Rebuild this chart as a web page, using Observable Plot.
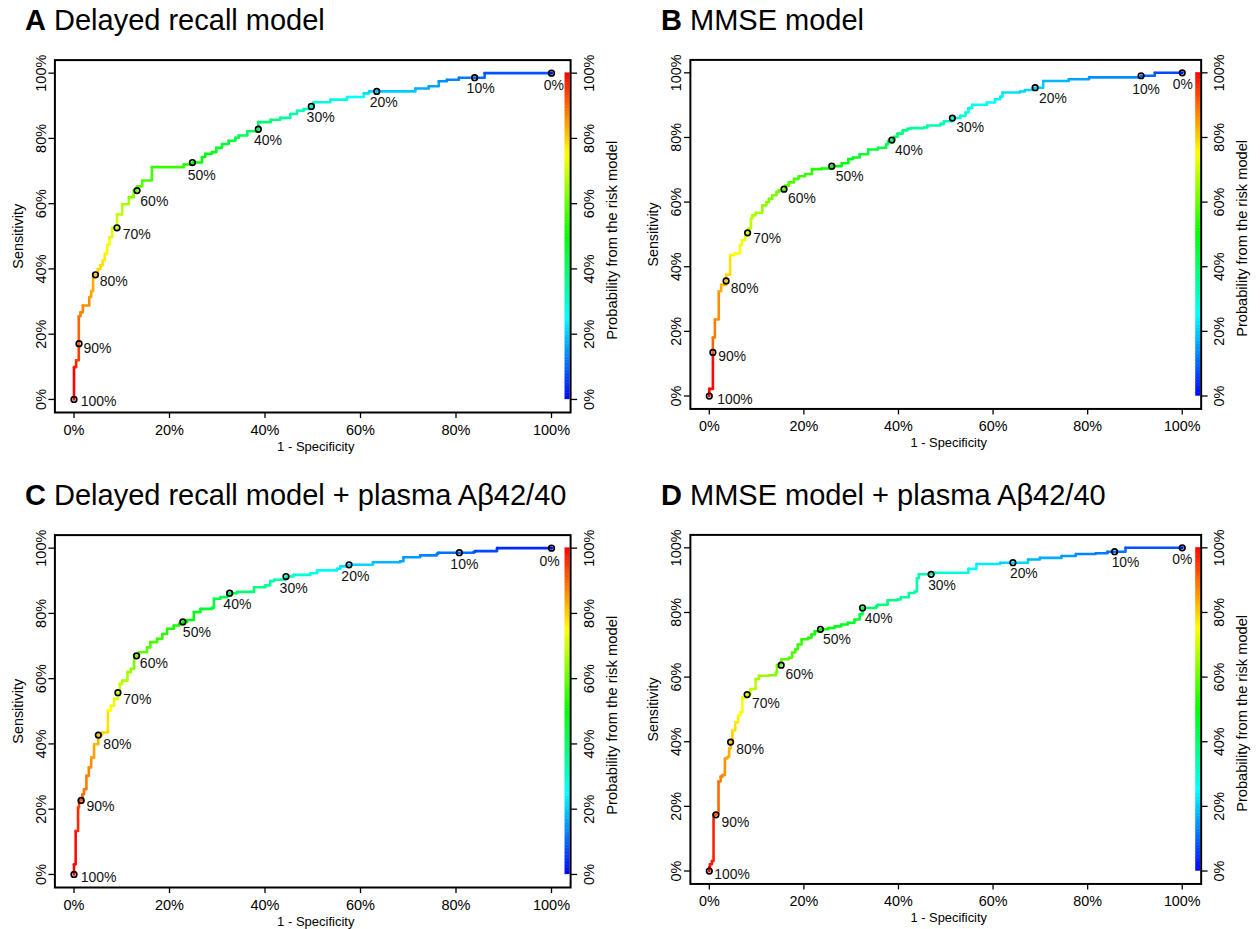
<!DOCTYPE html>
<html><head><meta charset="utf-8">
<script src="https://cdn.jsdelivr.net/npm/d3@7"></script>
<script src="https://cdn.jsdelivr.net/npm/@observablehq/plot@0.6"></script>
<style>
body{margin:0;background:#fff;}
#root{position:relative;width:1260px;height:929px;background:#fff;font-family:"Liberation Sans",Arial,Helvetica,sans-serif;color:#000;}
.title{position:absolute;font-size:29px;line-height:29px;white-space:nowrap;}
.panel{position:absolute;}
</style></head><body><div id="root"></div>
<script>
// ---------- data ----------
const tickVals = [0, 0.2, 0.4, 0.6, 0.8, 1];
const tickLabels = ["0%", "20%", "40%", "60%", "80%", "100%"];
const cutLabels = ["100%", "90%", "80%", "70%", "60%", "50%", "40%", "30%", "20%", "10%", "0%"];

// ROC vertices: [1-specificity %, sensitivity %, cutoff probability %]
const rocA = [[0,0,100],[0,9.9,97],[0.45,12.0,94],[1.0,17.1,90],[1.0,25.5,88],[1.36,26.7,87],[1.85,28.8,86],[3.2,31.4,84],[3.6,33.2,83],[4.0,38.2,81],[4.5,38.2,80],[5.0,40.0,79],[5.55,41.1,78],[6.0,42.6,77],[6.45,44.6,76],[6.95,47.4,74],[7.43,49.7,72],[8.0,52.6,71],[9.0,52.6,70],[9.0,56.7,68],[10.1,59.8,66],[11.5,62.0,63],[12.5,64.0,61],[13.2,65.3,59],[14.3,67.1,57],[16.3,71.2,55],[23.0,72.0,52],[24.8,72.6,50],[26.8,74.3,49],[27.5,75.3,48],[28.9,75.8,47],[29.8,77.1,46],[31.0,78.3,45],[32.4,79.3,44],[33.8,80.2,43],[34.5,80.9,42],[36.3,82.2,41],[38.6,82.8,40],[38.6,85.0,39],[41.2,85.7,37],[43.2,86.3,35],[45.3,87.5,33],[46.7,88.5,32],[48.1,89.0,31],[49.7,89.8,30],[50.2,91.1,29],[53.7,91.9,27],[57.2,92.7,25],[60.7,93.8,22],[61.8,94.4,21],[63.4,94.4,20],[71.5,95.3,17],[74.3,96.0,16],[76.4,97.5,14],[78.1,98.0,13],[80.6,98.6,12],[83.9,98.6,10],[86.0,100,8],[100,100,0]];
const cutA = [[0,0],[1.05,17.1],[4.5,38.2],[9.0,52.6],[13.2,64.0],[24.8,72.6],[38.6,82.8],[49.7,89.8],[63.4,94.4],[83.9,98.6],[100,100]];

const rocB = [[0,0,100],[0,2.2,99],[0.76,13.5,90],[0.76,18.1,88],[1.18,23.7,86],[2.0,32.4,83],[2.5,34.4,82],[3.55,35.6,80],[3.55,37.5,79],[4.4,38.5,78],[4.4,43.6,76],[5.3,44.1,75],[6.5,46.7,74],[6.9,48.2,73],[7.6,49.7,71],[8.1,50.5,70],[8.3,51.8,69],[8.8,54.9,68],[9.1,55.9,67],[9.8,56.7,66],[11.2,57.5,64],[11.2,59.0,64],[12.1,60.0,63],[12.6,61.0,62],[13.3,62.1,62],[14.2,63.1,61],[14.7,63.6,60],[15.8,64.0,60],[16.1,65.1,59],[16.8,66.1,58],[17.9,67.2,57],[18.9,68.0,56],[20.3,68.7,55],[21.7,70.2,53],[23.8,70.4,52],[25.9,71.1,50],[28.0,72.0,48],[29.4,73.3,47],[30.4,73.8,46],[31.8,74.8,45],[33.6,76.3,44],[35.7,76.8,43],[37.4,77.9,42],[37.8,78.9,41],[38.6,79.2,40],[39.1,80.2,39],[39.8,81.2,38],[40.9,82.2,37],[41.9,82.7,36],[42.6,82.9,35],[45.4,83.1,34],[46.1,83.7,33],[48.9,84.2,32],[49.6,85.0,31],[51.4,86.0,30],[53.1,86.7,29],[54.2,87.7,28],[54.8,89.1,27],[55.6,90.1,26],[58.7,90.8,25],[60.4,91.8,24],[61.5,92.6,23],[62.0,93.9,22],[65.7,94.2,21],[66.7,94.7,21],[68.4,95.2,20],[68.9,95.4,20],[70.6,97.5,18],[76.0,98.0,16],[80.3,98.6,14],[91.3,99.1,10],[94.2,100,7],[100,100,0]];
const cutB = [[0,0],[0.76,13.5],[3.55,35.6],[8.1,50.5],[15.8,64.0],[25.9,71.1],[38.6,79.2],[51.4,86.0],[68.9,95.4],[91.3,99.1],[100,100]];

const rocC = [[0,0,100],[0,3.1,99],[0.35,13.3,96],[0.85,20.5,93],[1.05,22.7,91],[1.75,24.6,89],[2.1,26.1,88],[2.6,30.2,87],[3.1,32.8,86],[3.6,35.8,84],[4.2,39.9,82],[5.1,42.7,80],[5.9,43.5,79],[7.1,44.6,78],[7.1,50.2,75],[7.7,51.7,73],[8.4,53.8,72],[9.2,55.7,70],[9.6,58.4,68],[10.1,59.4,67],[11.2,62.0,65],[11.9,63.0,64],[12.6,63.5,62],[12.6,67.0,61],[13.6,68.1,59],[15.3,69.6,58],[16.0,71.2,57],[17.4,72.2,55],[18.5,73.7,54],[19.5,75.3,53],[20.9,76.3,52],[22.0,76.8,51],[22.8,77.4,50],[23.7,78.0,49],[25.1,80.4,47],[26.5,81.4,46],[28.9,81.7,44],[29.3,84.5,43],[30.7,85.0,42],[32.1,86.0,41],[32.6,86.2,40],[34.2,86.6,39],[37.7,88.0,37],[40.1,88.6,35],[41.1,89.9,34],[41.9,90.3,33],[43.3,90.4,32],[44.4,91.3,30],[46.0,91.8,29],[49.5,92.3,27],[50.9,93.2,26],[55.1,93.7,23],[55.8,94.4,22],[57.2,94.9,21],[62.6,95.7,18],[68.3,96.0,16],[69.0,97.2,15],[72.5,97.8,13],[76.0,98.3,12],[76.3,98.6,11],[83.7,98.8,8],[84.0,99.1,7],[88.6,100,4],[100,100,0]];
const cutC = [[0,0],[1.5,22.7],[5.1,42.7],[9.2,55.7],[13.1,67.0],[22.8,77.4],[32.6,86.2],[44.4,91.3],[57.6,94.9],[80.7,98.6],[100,100]];

const rocD = [[0,0,100],[0,1.2,99],[0.14,2.1,98],[0.56,3.1,97],[0.9,17.4,91],[1.4,17.9,90],[1.95,27.7,88],[2.4,29.2,87],[2.8,29.7,86],[3.3,34.8,84],[3.8,35.3,83],[4.2,37.9,82],[4.5,39.9,80],[4.9,43.5,78],[5.5,46.0,77],[6.1,48.1,75],[6.6,49.1,74],[7.0,53.7,72],[8.0,54.6,70],[8.7,56.3,68],[9.8,59.4,66],[10.5,60.4,65],[12.6,60.6,63],[14.1,61.4,62],[14.3,63.7,61],[15.2,65.5,59],[16.8,66.0,58],[17.5,67.6,57],[18.2,68.6,56],[18.7,70.1,55],[19.5,71.7,54],[20.9,72.2,53],[21.6,73.2,52],[22.3,74.2,51],[23.5,74.8,50],[25.1,75.2,49],[26.5,75.7,48],[27.9,76.3,47],[29.3,76.8,46],[30.7,77.8,44],[31.8,79.4,42],[32.4,81.4,40],[35.3,81.9,39],[35.6,82.4,38],[37.7,83.8,37],[39.8,84.0,36],[40.5,84.7,35],[42.2,86.0,34],[43.4,86.5,34],[43.9,90.6,33],[44.3,91.8,32],[47.5,92.3,29],[54.8,93.5,25],[56.5,95.0,23],[61.5,95.4,21],[67.4,96.4,18],[69.9,96.9,17],[74.5,97.5,15],[77.5,98.1,13],[81.7,98.3,12],[84.2,98.8,11],[88.0,100,8],[100,100,0]];
const cutD = [[0,0],[1.4,17.4],[4.5,39.9],[8.0,54.6],[15.2,63.7],[23.5,74.8],[32.4,81.4],[46.9,91.8],[64.2,95.4],[85.7,98.8],[100,100]];

// label nudges (px): [dx to text start, dy to text middle]
const nudgeA = [[6.7,1.7],[4.4,4.4],[4.3,6.7],[5.7,7],[3.3,10.4],[-4.7,13.3],[-4.4,11.3],[-4.7,11.3],[-7,11.3],[-8,11],[-7.7,12.3]];
const nudgeB = [[8,3.3],[5.4,4.7],[4.7,7.3],[5.7,6.3],[4,9.7],[4,10.3],[3.3,10.3],[4,10],[4,10.6],[-9,13.6],[-9.6,11.7]];
const nudgeC = [[6.7,3.4],[5.3,6],[5,9.4],[5.4,7.3],[3.3,8],[0,10.4],[-6.3,11.3],[-6.4,11.7],[-7.7,11.7],[-9,11.6],[-12,13.4]];
const nudgeD = [[5,4],[5.6,8.3],[5.7,7.4],[5,9.3],[4.4,9],[2.7,10.3],[2.3,11],[-3,11],[-3,11],[-3,11],[-10,12]];

const panelDefs = [
  {letter: "A", title: "Delayed recall model", roc: rocA, cut: cutA, nudge: nudgeA, left: 0, top: 40},
  {letter: "B", title: "MMSE model", roc: rocB, cut: cutB, nudge: nudgeB, left: 636, top: 40},
  {letter: "C", title: "Delayed recall model + plasma A\u03b242/40", roc: rocC, cut: cutC, nudge: nudgeC, left: 0, top: 514.5},
  {letter: "D", title: "MMSE model + plasma A\u03b242/40", roc: rocD, cut: cutD, nudge: nudgeD, left: 636, top: 514.5}
];

// ---------- drawing ----------
const FONT = '"Liberation Sans", Arial, Helvetica, sans-serif';
const barLevels = d3.range(0, 100);
const fmtTick = d => tickLabels[tickVals.findIndex(v => Math.abs(v - d) < 1e-9)];
const root = document.getElementById("root");

function makePanel(p) {
  const px = d => d[0] / 100, py = d => d[1] / 100;
  return Plot.plot({
    width: 630, height: 414,
    marginLeft: 54.4, marginRight: 59.9, marginTop: 19.6, marginBottom: 42,
    x: {domain: [-0.04, 1.04]},
    y: {domain: [-0.04, 1.04]},
    color: {type: "linear", domain: [0, 1], interpolate: t => d3.hsl((1 - t) * 240, 1, 0.5).formatRgb()},
    style: {fontFamily: FONT, fontSize: "14px", background: "#fff", color: "#000", overflow: "visible"},
    marks: [
      Plot.axisX({ticks: tickVals, tickFormat: fmtTick, tickSize: 6, tickPadding: 6, fontSize: 14.5, label: null, strokeWidth: 1.3}),
      Plot.axisY({anchor: "left", ticks: tickVals, tickFormat: fmtTick, tickSize: 6, tickRotate: -90, tickPadding: 3, fontSize: 14.5, label: null, strokeWidth: 1.3}),
      Plot.axisY({anchor: "right", ticks: tickVals, tickFormat: fmtTick, tickSize: 6, tickRotate: -90, lineAnchor: "top", tickPadding: 7, fontSize: 14.5, label: null, strokeWidth: 1.3}),
      Plot.rect(barLevels, {x1: () => 1.029, x2: () => 1.0385, y1: d => d / 100, y2: d => (d + 1) / 100, fill: d => (d + 0.5) / 100, stroke: d => (d + 0.5) / 100, strokeWidth: 0.4}),
      Plot.line(p.roc, {x: px, y: py, stroke: d => d[2] / 100, z: null, curve: "step-after", strokeWidth: 2.6}),
      Plot.dot(p.cut, {x: px, y: py, r: 2.8, stroke: "#000", strokeWidth: 1.7, fill: "none"}),
      ...p.cut.map((c, i) => Plot.text([c], {x: px, y: py, text: () => cutLabels[i], dx: p.nudge[i][0], dy: p.nudge[i][1], textAnchor: "start", lineAnchor: "middle", fontSize: 14, fill: "#111"})),
      Plot.text(["1 - Specificity"], {text: d => d, frameAnchor: "bottom", dx: 3, dy: 34.5, fontSize: 13, textAnchor: "middle", lineAnchor: "middle"}),
      Plot.text(["Sensitivity"], {text: d => d, frameAnchor: "left", rotate: -90, dx: -37, fontSize: 14.4, textAnchor: "middle", lineAnchor: "middle"}),
      Plot.text(["Probability from the risk model"], {text: d => d, frameAnchor: "right", rotate: -90, dx: 42, dy: 4, fontSize: 14.8, textAnchor: "middle", lineAnchor: "middle"}),
      Plot.frame({stroke: "#000", strokeWidth: 2})
    ]
  });
}

for (const p of panelDefs) {
  const t = document.createElement("div");
  t.className = "title";
  t.style.left = (p.left + 25) + "px";
  t.style.top = (p.top - 34) + "px";
  t.innerHTML = "<b>" + p.letter + "</b> " + p.title;
  root.appendChild(t);
  const d = document.createElement("div");
  d.className = "panel";
  d.style.left = p.left + "px";
  d.style.top = p.top + "px";
  d.appendChild(makePanel(p));
  root.appendChild(d);
}
</script>
</body></html>
